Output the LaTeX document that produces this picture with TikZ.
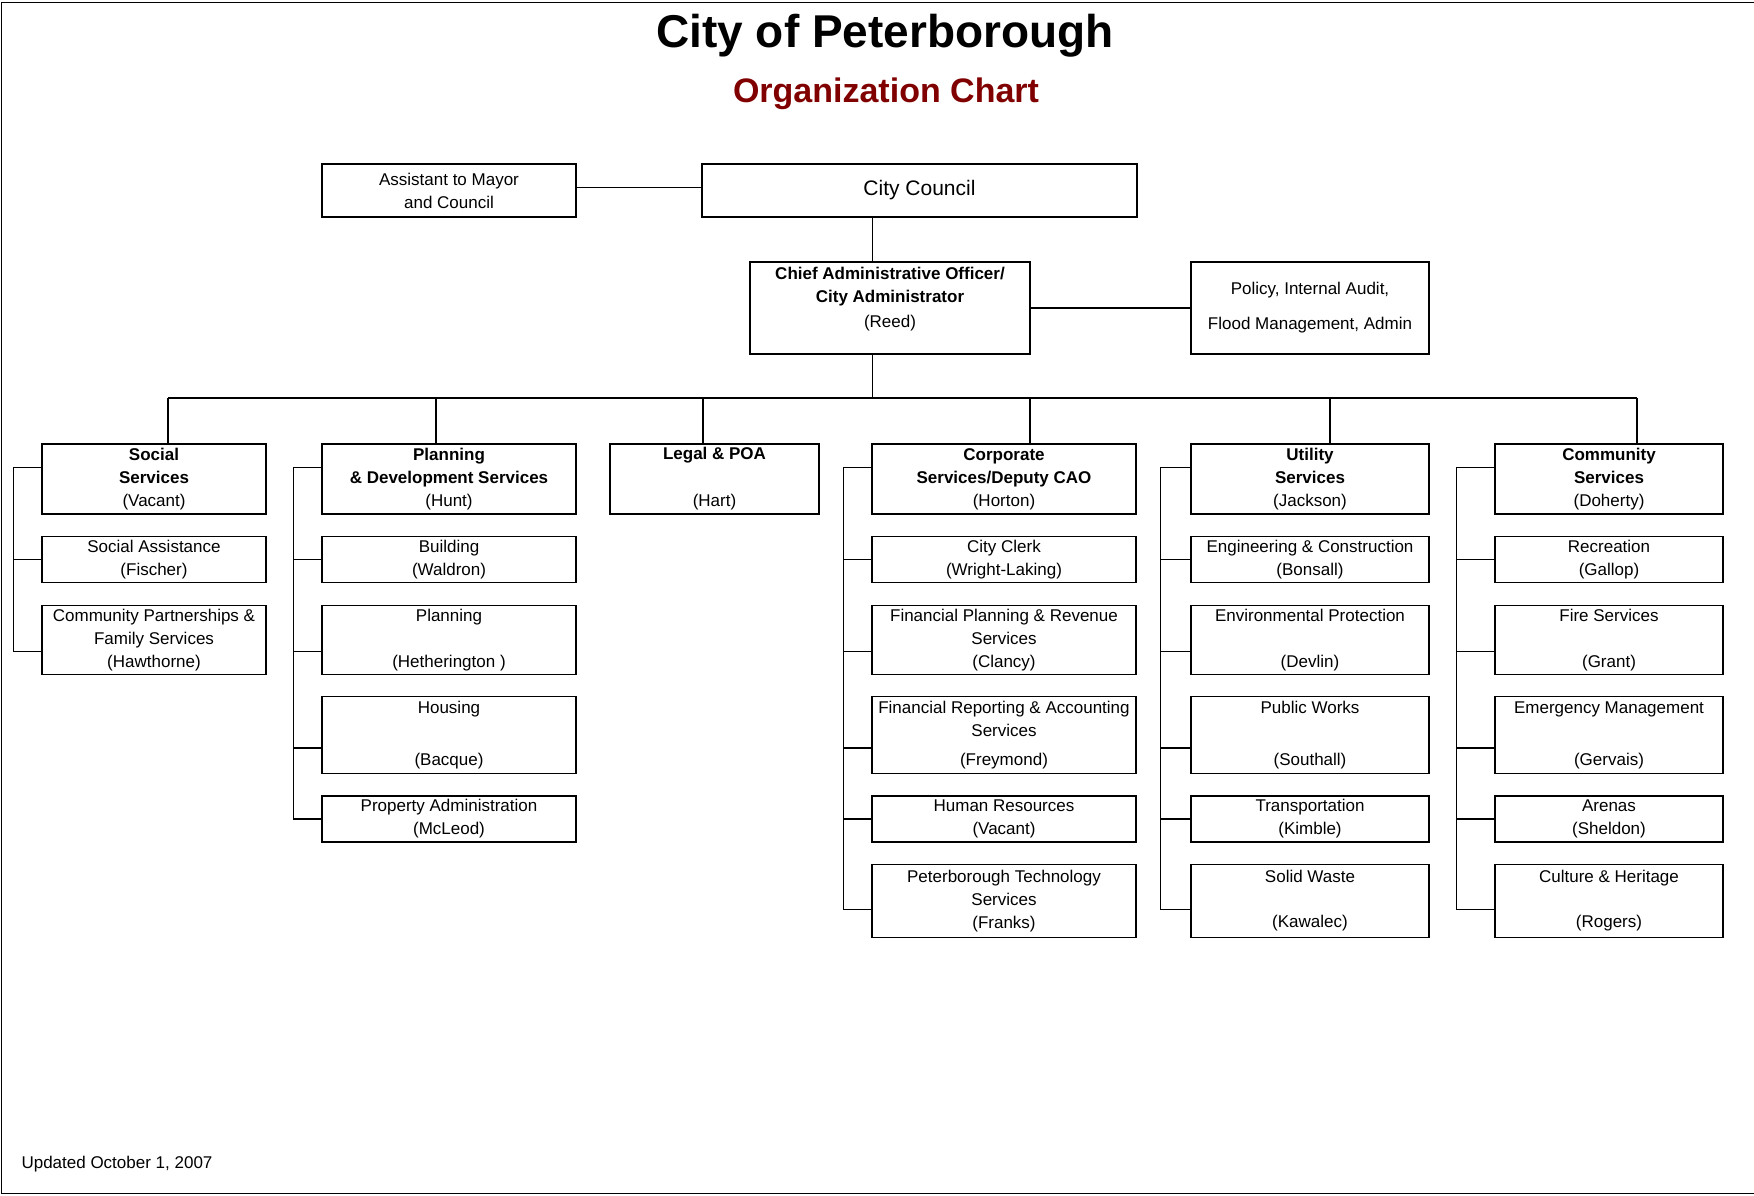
\documentclass[tikz,border=0pt]{standalone}
\usepackage{fontspec}
\setmainfont{Liberation Sans}
\usetikzlibrary{positioning, calc}
\definecolor{titlered}{RGB}{128, 0, 0}
\newcommand{\unitfont}{\fontsize{17}{23}\selectfont}

\begin{document}
\begin{tikzpicture}[
        x=1pt, y=-1pt,
        box/.style={rectangle, draw, line width=1.3pt, align=center, font=\unitfont, inner sep=2pt},
        head/.style={box, minimum height=70pt},
        rowa/.style={box, minimum height=46pt},
        rowb/.style={box, minimum height=69.5pt},
        rowc/.style={box, minimum height=76.5pt},
        rowd/.style={box, minimum height=46pt},
        rowe/.style={box, minimum height=72.5pt},
        socw/.style={minimum width=224pt},
        planw/.style={minimum width=254pt},
        legalw/.style={minimum width=209pt},
        corpw/.style={minimum width=264pt},
        utilw/.style={minimum width=238pt},
        commw/.style={minimum width=228pt},
        link/.style={line width=1.3pt}
    ]
        \useasboundingbox (0,0) rectangle (1754,1196);
        \draw[line width=1.5pt] (1760,2.5) -- (1.5,2.5) -- (1.5,1193.5) -- (1760,1193.5);

        % Title
        \node[font=\bfseries\fontsize{46}{50}\selectfont, anchor=base] (title) at (885,48) {City of Peterborough};
        \node[font=\bfseries\fontsize{34}{38}\selectfont, text=titlered, anchor=base] (subtitle) at (886,103) {Organization Chart};

        % Council
        \node[box, planw, minimum height=53pt] (asst) at (449,190.5) {Assistant to Mayor\\and Council};
        \node[box, minimum width=435pt, minimum height=53pt, font=\fontsize{21}{25}\selectfont] (council) at (919.5,190.5) {City Council};

        % CAO
        \node[box, minimum width=280pt, minimum height=92pt] (cao) at (890,308) {\textbf{Chief Administrative Officer/}\\\textbf{City Administrator}\\[2pt](Reed)\\[-2.5pt]\mbox{}};
        \node[box, utilw, minimum height=92pt] (policy) at (1310,308) {Policy, Internal Audit,\\[12pt]Flood Management, Admin};

        % Departments
        \node[head, socw] (soc) at (154,479) {\textbf{Social}\\\textbf{Services}\\(Vacant)};
        \node[head, planw] (plan) at (449,479) {\textbf{Planning}\\\textbf{\& Development Services}\\(Hunt)};
        \node[head, legalw] (legal) at (714.5,479) {\textbf{Legal \& POA}\\[24pt](Hart)};
        \node[head, corpw] (corp) at (1004,479) {\textbf{Corporate}\\\textbf{Services/Deputy CAO}\\(Horton)};
        \node[head, utilw] (util) at (1310,479) {\textbf{Utility}\\\textbf{Services}\\(Jackson)};
        \node[head, commw] (comm) at (1609,479) {\textbf{Community}\\\textbf{Services}\\(Doherty)};

        % Social Services
        \node[rowa, socw] (soc1) at (154,559.5) {Social Assistance\\(Fischer)};
        \node[rowb, socw] (soc2) at (154,640) {Community Partnerships \&\\Family Services\\(Hawthorne)};

        % Planning & Development
        \node[rowa, planw] (plan1) at (449,559.5) {Building\\(Waldron)};
        \node[rowb, planw] (plan2) at (449,640) {Planning\\[23pt](Hetherington )};
        \node[rowc, planw] (plan3) at (449,735) {Housing\\[29pt](Bacque)};
        \node[rowd, planw] (plan4) at (449,819) {Property Administration\\(McLeod)};

        % Corporate Services
        \node[rowa, corpw] (corp1) at (1004,559.5) {City Clerk\\(Wright-Laking)};
        \node[rowb, corpw] (corp2) at (1004,640) {Financial Planning \& Revenue\\Services\\(Clancy)};
        \node[rowc, corpw] (corp3) at (1004,735) {Financial Reporting \& Accounting\\Services\\[6pt](Freymond)};
        \node[rowd, corpw] (corp4) at (1004,819) {Human Resources\\(Vacant)};
        \node[rowe, corpw] (corp5) at (1004,901) {Peterborough Technology\\Services\\(Franks)};

        % Utility Services
        \node[rowa, utilw] (util1) at (1310,559.5) {Engineering \& Construction\\(Bonsall)};
        \node[rowb, utilw] (util2) at (1310,640) {Environmental Protection\\[23pt](Devlin)};
        \node[rowc, utilw] (util3) at (1310,735) {Public Works\\[29pt](Southall)};
        \node[rowd, utilw] (util4) at (1310,819) {Transportation\\(Kimble)};
        \node[rowe, utilw] (util5) at (1310,901) {Solid Waste\\[22pt](Kawalec)};

        % Community Services
        \node[rowa, commw] (comm1) at (1609,559.5) {Recreation\\(Gallop)};
        \node[rowb, commw] (comm2) at (1609,640) {Fire Services\\[23pt](Grant)};
        \node[rowc, commw] (comm3) at (1609,735) {Emergency Management\\[29pt](Gervais)};
        \node[rowd, commw] (comm4) at (1609,819) {Arenas\\(Sheldon)};
        \node[rowe, commw] (comm5) at (1609,901) {Culture \& Heritage\\[22pt](Rogers)};

        \node[font=\fontsize{17}{20}\selectfont, anchor=base west] (updated) at (18,1168) {Updated October 1, 2007};

        % Bus
        \coordinate (trunk) at (872.5,398);
        \coordinate (dsoc) at (168,398);
        \coordinate (dplan) at (436,398);
        \coordinate (dlegal) at (703,398);
        \coordinate (dcorp) at (1030,398);
        \coordinate (dutil) at (1330,398);
        \coordinate (dcomm) at (1637,398);

        % Lines
        \draw[link] ([yshift=3pt]asst.east) -- ([yshift=3pt]council.west);
        \draw[link] (council.south -| trunk) -- (cao.north -| trunk);
        \draw[link] (cao.east) -- (policy.west);
        \draw[link] (cao.south -| trunk) -- (trunk);
        \draw[link] (dsoc) -- (dcomm);
        \draw[link] (dsoc) -- (dsoc |- soc.north);
        \draw[link] (dplan) -- (dplan |- plan.north);
        \draw[link] (dlegal) -- (dlegal |- legal.north);
        \draw[link] (dcorp) -- (dcorp |- corp.north);
        \draw[link] (dutil) -- (dutil |- util.north);
        \draw[link] (dcomm) -- (dcomm |- comm.north);

        \draw[link] ([yshift=11.5pt]soc.west) -- ++(-28,0) |- ([yshift=-11.4pt]soc2.west);
        \draw[link] (soc1.west) -- ++(-28,0);

        \draw[link] ([yshift=11.5pt]plan.west) -- ++(-28,0) |- (plan4.west);
        \draw[link] (plan1.west) -- ++(-28,0);
        \draw[link] ([yshift=-11.4pt]plan2.west) -- ++(-28,0);
        \draw[link] ([yshift=-13pt]plan3.west) -- ++(-28,0);

        \draw[link] ([yshift=11.5pt]corp.west) -- ++(-28,0) |- ([yshift=-8.4pt]corp5.west);
        \draw[link] (corp1.west) -- ++(-28,0);
        \draw[link] ([yshift=-11.4pt]corp2.west) -- ++(-28,0);
        \draw[link] ([yshift=-13pt]corp3.west) -- ++(-28,0);
        \draw[link] (corp4.west) -- ++(-28,0);

        \draw[link] ([yshift=11.5pt]util.west) -- ++(-30,0) |- ([yshift=-8.4pt]util5.west);
        \draw[link] (util1.west) -- ++(-30,0);
        \draw[link] ([yshift=-11.4pt]util2.west) -- ++(-30,0);
        \draw[link] ([yshift=-13pt]util3.west) -- ++(-30,0);
        \draw[link] (util4.west) -- ++(-30,0);

        \draw[link] ([yshift=11.5pt]comm.west) -- ++(-38,0) |- ([yshift=-8.4pt]comm5.west);
        \draw[link] (comm1.west) -- ++(-38,0);
        \draw[link] ([yshift=-11.4pt]comm2.west) -- ++(-38,0);
        \draw[link] ([yshift=-13pt]comm3.west) -- ++(-38,0);
        \draw[link] (comm4.west) -- ++(-38,0);
    \end{tikzpicture}
\end{document}
